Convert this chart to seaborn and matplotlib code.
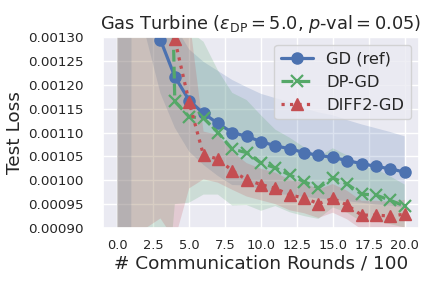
import numpy as np
import matplotlib
matplotlib.use("Agg")
import matplotlib.pyplot as plt
import seaborn as sns
from matplotlib.ticker import FormatStrFormatter

# communication rounds / 100
rounds = list(range(21))

gd_mean = [0.05, 0.003, 0.00148, 0.001294, 0.001217, 0.001167, 0.00114, 0.001119,
           0.001100, 0.001092, 0.001081, 0.001072, 0.001066, 0.001058, 0.001052,
           0.001048, 0.001041, 0.001035, 0.001029, 0.001024, 0.001017]
gd_std = [0.08, 0.0012, 0.00018, 0.000112, 0.000107, 0.000107, 0.000108, 0.00011,
          0.00011, 0.000103, 0.0001, 0.0001, 0.000097, 0.000093, 0.00009,
          0.000088, 0.000085, 0.000082, 0.00008, 0.000077, 0.000075]

dp_mean = [0.06, 0.005, 0.0035, 0.0025, 0.001165, 0.001133, 0.00113, 0.0011,
           0.001065, 0.001058, 0.001036, 0.001026, 0.001011, 0.000997, 0.000984,
           0.001005, 0.000992, 0.000971, 0.000969, 0.000958, 0.000946]
dp_std = [0.09, 0.0045, 0.003, 0.0019, 0.000215, 0.00018, 0.00016, 0.00013,
          0.000118, 0.00011, 0.0001, 0.00008, 0.000078, 0.000072, 0.000065,
          0.000062, 0.00006, 0.000058, 0.000055, 0.00005, 0.000045]

diff_mean = [0.07, 0.003, 0.0019, 0.0015, 0.001295, 0.001163, 0.001052, 0.001045,
             0.00102, 0.001001, 0.000991, 0.000983, 0.000969, 0.000963, 0.000951,
             0.000962, 0.000948, 0.000927, 0.000927, 0.000925, 0.000929]
diff_std = [0.1, 0.0025, 0.001, 0.00058, 0.00042, 0.00018, 0.00005, 0.00005,
            0.00004, 0.000035, 0.000033, 0.000033, 0.000032, 0.000032, 0.00003,
            0.00003, 0.00003, 0.00003, 0.00003, 0.00003, 0.00003]

labels = ["GD (ref)", "DP-GD", "DIFF2-GD"]
xticks = [0.0, 2.5, 5.0, 7.5, 10.0, 12.5, 15.0, 17.5, 20.0]
yticks = [0.0009, 0.00095, 0.001, 0.00105, 0.0011, 0.00115, 0.0012, 0.00125, 0.0013]

sns.set_theme(style="darkgrid")
plt.rcParams['font.family'] = ['DejaVu Sans']

fig, ax = plt.subplots(figsize=(4.32, 2.88), dpi=100)
fig.subplots_adjust(left=0.2384, right=0.970, bottom=0.2083, top=0.8715)

pal = sns.color_palette("deep")
specs = [
    (labels[0], gd_mean, gd_std, pal[0], "-", "o", 8, 1.0),
    (labels[1], dp_mean, dp_std, pal[2], "--", "x", 8, 1.6),
    (labels[2], diff_mean, diff_std, pal[3], ":", "^", 8.5, 1.0),
]
for lab, m, s, c, ls, mk, ms, mew in specs:
    m = np.asarray(m)
    s = np.asarray(s)
    ax.fill_between(rounds, m - s, m + s, color=c, alpha=0.2, linewidth=0)
    sns.lineplot(x=rounds, y=m, color=c, linestyle=ls, marker=mk, markersize=ms,
                 linewidth=2.3, markeredgecolor=c, markerfacecolor=c,
                 markeredgewidth=mew, label=lab, ax=ax)

ax.set_xlim(-1, 21)
ax.set_ylim(0.0009, 0.0013)
ax.set_xticks(xticks)
ax.set_yticks(yticks)
ax.xaxis.set_major_formatter(FormatStrFormatter('%.1f'))
ax.yaxis.set_major_formatter(FormatStrFormatter('%.5f'))
ax.tick_params(axis='x', labelsize=9.4, pad=2)
ax.tick_params(axis='y', labelsize=9.7, pad=8)
ax.set_xlabel("# Communication Rounds / 100", fontsize=13.3, labelpad=2)
ax.set_ylabel("Test Loss", fontsize=13.3, labelpad=3)
ax.set_title(r"Gas Turbine ($\varepsilon_{\mathrm{DP}}=5.0$, $p$-val$=0.05$)", fontsize=12.8)
ax.legend(loc="upper right", fontsize=11.7)

fig.savefig("out.png", dpi=100)
